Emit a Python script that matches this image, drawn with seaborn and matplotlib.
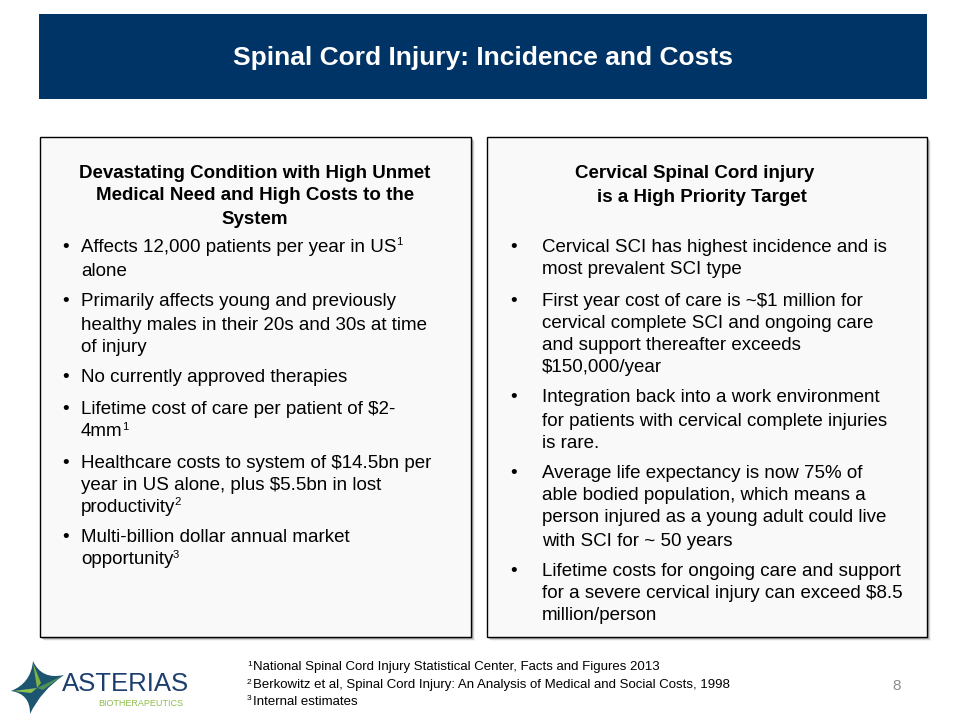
import matplotlib
matplotlib.use("Agg")
import matplotlib.pyplot as plt
import seaborn as sns
from matplotlib.patches import Rectangle, Polygon
from matplotlib.path import Path
from matplotlib.patches import PathPatch

sns.set_theme(style="white")
plt.rcParams['font.family'] = ['Liberation Sans', 'DejaVu Sans']
plt.rcParams['text.color'] = 'black'

TITLE = "Spinal Cord Injury: Incidence and Costs"

LEFT_HEADING = ["Devastating Condition with High Unmet",
                "Medical Need and High Costs to the",
                "System"]
# each bullet: list of (line, superscript)
LEFT_BULLETS = [
    [("Affects 12,000 patients per year in US", "1"), ("alone", None)],
    [("Primarily affects young and previously", None),
     ("healthy males in their 20s and 30s at time", None),
     ("of injury", None)],
    [("No currently approved therapies", None)],
    [("Lifetime cost of care per patient of $2-", None), ("4mm", "1")],
    [("Healthcare costs to system of $14.5bn per", None),
     ("year in US alone, plus $5.5bn in lost", None),
     ("productivity", "2")],
    [("Multi-billion dollar annual market", None), ("opportunity", "3")],
]
LEFT_LINE_Y = [[247, 271], [302, 325, 348], [378], [409, 432], [463, 485, 507], [538, 560]]

RIGHT_HEADING = ["Cervical Spinal Cord injury", "is a High Priority Target"]
RIGHT_BULLETS = [
    [("Cervical SCI has highest incidence and is", None), ("most prevalent SCI type", None)],
    [("First year cost of care is ~$1 million for", None),
     ("cervical complete SCI and ongoing care", None),
     ("and support thereafter exceeds", None),
     ("$150,000/year", None)],
    [("Integration back into a work environment", None),
     ("for patients with cervical complete injuries", None),
     ("is rare.", None)],
    [("Average life expectancy is now 75% of", None),
     ("able bodied population, which means a", None),
     ("person injured as a young adult could live", None),
     ("with SCI for ~ 50 years", None)],
    [("Lifetime costs for ongoing care and support", None),
     ("for a severe cervical injury can exceed $8.5", None),
     ("million/person", None)],
]
RIGHT_LINE_Y = [[247, 270], [301, 323, 345, 367], [398, 421, 443], [473, 496, 518, 541], [571, 594, 616]]

FOOTNOTES = [("1", "National Spinal Cord Injury Statistical Center, Facts and Figures 2013"),
             ("2", "Berkowitz et al, Spinal Cord Injury: An Analysis of Medical and Social Costs, 1998"),
             ("3", "Internal estimates")]
FOOT_Y = [667, 685, 702]
PAGE = "8"

W, H = 958, 717
fig = plt.figure(figsize=(W / 100, H / 100), dpi=100)
ax = fig.add_axes([0, 0, 1, 1])
ax.set_xlim(0, W)
ax.set_ylim(H, 0)
ax.axis("off")
fig.patch.set_facecolor("white")

NAVY = "#003466"
FS = 13.5

# header
ax.add_patch(Rectangle((39, 14), 888, 85, facecolor=NAVY, edgecolor="none"))
ax.text(483, 58, TITLE, color="white", fontsize=19, fontweight="bold",
        ha="center", va="center", parse_math=False)

# boxes with shadow
def box(x0, y0, x1, y1):
    for i, a in zip(range(5, 0, -1), [0.08, 0.12, 0.16, 0.22, 0.3]):
        ax.add_patch(Rectangle((x0 + 1 + i * 0.6, y0 + 1 + i * 0.6), x1 - x0, y1 - y0,
                               facecolor="#777777", edgecolor="none", alpha=a))
    ax.add_patch(Rectangle((x0, y0), x1 - x0, y1 - y0, facecolor="#f9f9f9",
                           edgecolor="black", linewidth=1.0))

box(40, 137, 471, 637)
box(487, 137, 927, 637)

fig.canvas.draw()
renderer = fig.canvas.get_renderer()

def line_with_sup(x, y, s, sup, fs=FS):
    t = ax.text(x, y, s, fontsize=fs, ha="left", va="center", color="black", parse_math=False)
    if sup:
        bb = t.get_window_extent(renderer=renderer)
        xe = bb.x1
        ax.text(xe - 0.5, y - 5, sup, fontsize=fs * 0.6, ha="left", va="center",
                color="black", parse_math=False)

# left heading
for s, y in zip(LEFT_HEADING, [174, 196, 219]):
    ax.text(255, y, s, fontsize=FS, fontweight="bold", ha="center", va="center", parse_math=False)

for bullet, ys in zip(LEFT_BULLETS, LEFT_LINE_Y):
    ax.text(66, ys[0], "\u2022", fontsize=FS, ha="center", va="center")
    for (s, sup), y in zip(bullet, ys):
        line_with_sup(81, y, s, sup)

# right heading
ax.text(575, 174, RIGHT_HEADING[0], fontsize=FS, fontweight="bold", ha="left", va="center", parse_math=False)
ax.text(597, 198, RIGHT_HEADING[1], fontsize=FS, fontweight="bold", ha="left", va="center", parse_math=False)

for bullet, ys in zip(RIGHT_BULLETS, RIGHT_LINE_Y):
    ax.text(514, ys[0], "\u2022", fontsize=FS, ha="center", va="center")
    for (s, sup), y in zip(bullet, ys):
        line_with_sup(542, y, s, sup)

# footnotes
NARROW = ['Liberation Sans Narrow', 'Liberation Sans', 'DejaVu Sans']
for (n, s), y in zip(FOOTNOTES, FOOT_Y):
    ax.text(247, y - 3, n, fontsize=6, family=NARROW, ha="left", va="center")
    ax.text(253, y, s, fontsize=9.5, family=NARROW, ha="left", va="center", parse_math=False)

ax.text(897, 686, PAGE, fontsize=11, color="#8c8c8c", family=NARROW, ha="center", va="center")

# logo: four-pointed star
cx, cy = 37, 688
tips = [(33, 661), (64, 675), (30, 714), (11, 691)]
def star_path(cx, cy, tips, k=0.2):
    verts, codes = [], []
    for i, tp in enumerate(tips):
        nxt = tips[(i + 1) % 4]
        if i == 0:
            verts.append(tp); codes.append(Path.MOVETO)
        ctrl = (cx + (tp[0] + nxt[0] - 2 * cx) * k, cy + (tp[1] + nxt[1] - 2 * cy) * k)
        verts += [ctrl, nxt]; codes += [Path.CURVE3, Path.CURVE3]
    verts.append(tips[0]); codes.append(Path.CLOSEPOLY)
    return Path(verts, codes)

ax.add_patch(PathPatch(star_path(cx, cy, tips), facecolor="#1d5470", edgecolor="none"))
ax.add_patch(Polygon([(cx, cy), (33, 663), (41, 683)], closed=True, facecolor="#7cb342", edgecolor="none"))
ax.add_patch(Polygon([(cx, cy), (13, 691), (31, 693)], closed=True, facecolor="#8cc152", edgecolor="none"))
ax.add_patch(Polygon([(cx, cy), (62, 676), (43, 690)], closed=True, facecolor="#4e8f5a", edgecolor="none"))
ax.text(126, 684, "ASTERIAS", fontsize=18.5, color="#1c3f6e", family=NARROW,
        ha="center", va="center")
ax.text(141, 704, "BIOTHERAPEUTICS", fontsize=6.5, color="#8dbd4a", family=NARROW,
        ha="center", va="center")

fig.savefig("out.png", dpi=100, facecolor="white")
